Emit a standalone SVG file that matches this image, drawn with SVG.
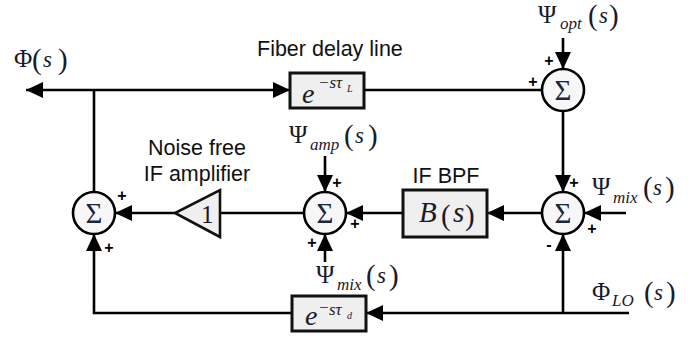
<svg xmlns="http://www.w3.org/2000/svg" width="699" height="339" viewBox="0 0 699 339">
<defs>
<marker id="ah" markerUnits="userSpaceOnUse" markerWidth="18" markerHeight="17" refX="17" refY="8" orient="auto">
<path d="M0,0 L17,8 L0,16 z" fill="#000"/>
</marker>
<style>
.w{fill:none;stroke:#000;stroke-width:2.6}
.a{marker-end:url(#ah)}
.box{fill:#efefef;stroke:#111;stroke-width:3}
.sum{fill:#f7f7f7;stroke:#000;stroke-width:2.6}
.lbl{font-family:"Liberation Sans",Arial,sans-serif;font-size:21.5px;fill:#111}
.m{font-family:"Liberation Serif","Times New Roman",serif;font-size:25px;fill:#1a1a2a}
.mi{font-family:"Liberation Serif","Times New Roman",serif;font-style:italic;fill:#1a1a2a}
.p{font-family:"Liberation Serif","Times New Roman",serif;font-size:29px;fill:#1a1a2a}
.sg{font-family:"Liberation Serif","Times New Roman",serif;font-size:29px;fill:#1a2540;text-anchor:middle}
.pl{font-family:"Liberation Sans",Arial,sans-serif;font-weight:bold;font-size:16px;fill:#000;text-anchor:middle;dominant-baseline:central}
</style>
</defs>

<g id="connectors">
<path class="w a" d="M94,90 H26"/>
<path class="w a" d="M94,90 H290"/>
<path class="w" d="M364,90 H542"/>
<path class="w" d="M94,90 V192"/>
<path class="w a" d="M563,38 V69"/>
<path class="w a" d="M563,111 V192"/>
<path class="w a" d="M626,213 H584"/>
<path class="w a" d="M542,213 H487"/>
<path class="w a" d="M403,213 H346"/>
<path class="w a" d="M325,156 V192"/>
<path class="w a" d="M325,262 V234"/>
<path class="w" d="M304,213 H220"/>
<path class="w a" d="M175,213 H115"/>
<path class="w a" d="M629,313 H366"/>
<path class="w a" d="M563,313 V234"/>
<path class="w a" d="M292,313 H94 V234"/>
</g>

<g id="label-phi">
<text class="m" x="14" y="67">Φ</text>
<text class="p" x="32" y="69">(</text>
<text class="mi" x="43" y="67" font-size="23">s</text>
<text class="p" x="58" y="69">)</text>
</g>

<g id="fiber-delay">
<text class="lbl" x="257" y="56">Fiber delay line</text>
<rect class="box" x="290" y="73" width="74" height="35"/>
<text class="mi" x="302" y="103" font-size="28">e</text>
<text class="mi" x="318" y="88" font-size="17">−sτ</text>
<text class="mi" x="347" y="92" font-size="10">L</text>
</g>

<g id="sum-opt">
<circle class="sum" cx="563" cy="90" r="21"/>
<text class="sg" x="563" y="100">Σ</text>
<text class="pl" x="549" y="60">+</text>
<text class="pl" x="533" y="81">+</text>
</g>

<g id="label-psi-opt">
<text class="m" x="538" y="23">Ψ</text>
<text class="mi" x="560" y="29" font-size="17">opt</text>
<text class="p" x="588" y="25">(</text>
<text class="mi" x="599" y="23" font-size="23">s</text>
<text class="p" x="609" y="25">)</text>
</g>

<g id="sum-mix">
<circle class="sum" cx="563" cy="213" r="21"/>
<text class="sg" x="563" y="223">Σ</text>
<text class="pl" x="574" y="182">+</text>
<text class="pl" x="592" y="228">+</text>
<text class="pl" x="549" y="244">-</text>
</g>

<g id="label-psi-mix-right">
<text class="m" x="592" y="195">Ψ</text>
<text class="mi" x="613" y="203" font-size="17">mix</text>
<text class="p" x="643" y="197">(</text>
<text class="mi" x="653" y="195" font-size="23">s</text>
<text class="p" x="665" y="197">)</text>
</g>

<g id="label-phi-lo">
<text class="m" x="592" y="300">Φ</text>
<text class="mi" x="612" y="306" font-size="17">LO</text>
<text class="p" x="644" y="302">(</text>
<text class="mi" x="654" y="300" font-size="23">s</text>
<text class="p" x="666" y="302">)</text>
</g>

<g id="if-bpf">
<text class="lbl" x="446" y="183" text-anchor="middle">IF BPF</text>
<rect class="box" x="403" y="190" width="84" height="47"/>
<text class="mi" x="419" y="222" font-size="29">B</text>
<text class="p" x="441" y="225" font-size="33">(</text>
<text class="mi" x="453" y="222" font-size="29">s</text>
<text class="p" x="465" y="225" font-size="33">)</text>
</g>

<g id="sum-amp">
<circle class="sum" cx="325" cy="213" r="21"/>
<text class="sg" x="325" y="223">Σ</text>
<text class="pl" x="337" y="182">+</text>
<text class="pl" x="355" y="223">+</text>
<text class="pl" x="312" y="242">+</text>
</g>

<g id="label-psi-amp">
<text class="m" x="289" y="143">Ψ</text>
<text class="mi" x="310" y="150" font-size="17">amp</text>
<text class="p" x="344" y="145">(</text>
<text class="mi" x="355" y="143" font-size="23">s</text>
<text class="p" x="368" y="145">)</text>
</g>

<g id="label-psi-mix-bottom">
<text class="m" x="316" y="283">Ψ</text>
<text class="mi" x="337" y="290" font-size="17">mix</text>
<text class="p" x="366" y="285">(</text>
<text class="mi" x="377" y="283" font-size="23">s</text>
<text class="p" x="389" y="285">)</text>
</g>

<g id="amplifier">
<text class="lbl" x="197" y="155" text-anchor="middle">Noise free</text>
<text class="lbl" x="197" y="181" text-anchor="middle">IF amplifier</text>
<polygon points="220,190 220,237 175,213" fill="#efefef" stroke="#111" stroke-width="2.6"/>
<text class="m" x="201" y="223" font-size="26">1</text>
</g>

<g id="sum-out">
<circle class="sum" cx="94" cy="213" r="21"/>
<text class="sg" x="94" y="223">Σ</text>
<text class="pl" x="122" y="195">+</text>
<text class="pl" x="109" y="247">+</text>
</g>

<g id="lo-delay">
<rect class="box" x="292" y="296" width="74" height="35"/>
<text class="mi" x="305" y="325" font-size="28">e</text>
<text class="mi" x="318" y="313" font-size="17" fill="#c8c8c8">−</text>
<text class="mi" x="329" y="315" font-size="17">sτ</text>
<text class="mi" x="347" y="319" font-size="10">d</text>
</g>
</svg>
